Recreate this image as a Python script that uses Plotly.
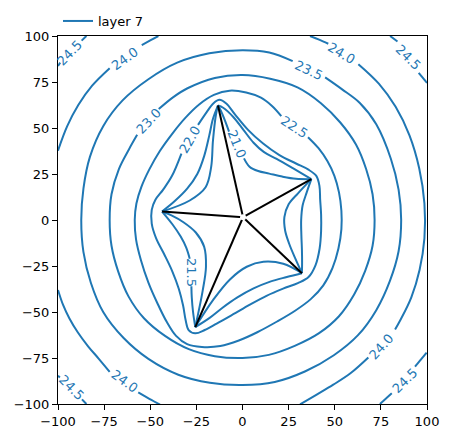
import plotly.graph_objects as go

BLUE = "#1f77b4"

# ---- star (line sinks) -------------------------------------------------
HUB_X = [0.3]
HUB_Y = [1.5]
TIP_X = [-13.3, 37.3, 32.2, -25.6, -43.6]
TIP_Y = [62.2, 22.2, -28.9, -58.2, 4.6]

# ---- contour pieces (data units) ----------------------------------------
LEVEL_24_5 = [
    [(-100, 83.7), (-98.8, 85.5)],
    [(-87.2, 97.5), (-84.6, 100)],
    [(80, 100), (84, 97)],
    [(95.5, 80), (100, 74.5)],
    [(-100, -84.6), (-99, -85.6)],
    [(-87, -97.5), (-84.6, -100)],
    [(74.5, -100), (80.9, -94.2)],
    [(93.5, -79.7), (99.8, -72.1)],
]

LEVEL_24_0 = [
    [(-100, 37.7), (-95, 51), (-89, 62.5), (-81.5, 73), (-72, 82.5)],
    [(-54.6, 95.1), (-50, 97.6), (-45.6, 100)],
    [(36.6, 100), (41.5, 98), (46.5, 95.8)],
    [(62.8, 84.7), (74, 74), (83, 61.5), (90.5, 46), (95.8, 28),
     (98.6, 9), (98.6, -10), (96, -27), (91.5, -42), (85.5, -54.5),
     (82.7, -59.5)],
    [(68.2, -74.7), (58.5, -83.3), (49.2, -89.5), (40, -95), (31.2, -100.2)],
    [(-100, -38), (-97.3, -46), (-93.8, -53.5), (-89.3, -61), (-83.8, -68.5),
     (-78, -75.3), (-72, -82.5)],
    [(-56.5, -93.7), (-50.5, -97.2), (-44.7, -100.3)],
]

LEVEL_23_5 = [
    [(44.8, 77.5), (54, 71), (63.6, 63.6), (72.5, 52), (80.4, 33.3),
     (84.6, 16.5), (86, 0), (84.6, -17), (79.9, -33.1), (72.5, -49),
     (62.6, -62.6), (49.5, -73.5), (34.1, -82.2), (17.5, -88),
     (0, -89.7), (-17.7, -88.5), (-34.8, -84.1), (-51, -75.5),
     (-64.3, -64.3), (-75.5, -50), (-82.2, -34.1), (-86.2, -17.5),
     (-87.4, 0), (-86.2, 17.2), (-82.7, 34.3), (-75.5, 51), (-65, 65),
     (-51, 76.5), (-35.4, 85.5), (-18, 90.6), (0, 92.3), (14.5, 91),
     (27.2, 86.3)],
]

LEVEL_23_0 = [
    [(-45.4, 60.3), (-37.5, 66.8), (-29.8, 71.6), (-15, 77.2), (0, 78.8),
     (15, 76.8), (29.8, 72.1), (42.5, 63.5), (53, 53), (61.5, 41),
     (67, 27.7), (70.5, 14), (71.6, 0), (70.5, -14), (66.5, -27.6),
     (60.5, -40.5), (52.3, -52.3), (41.5, -61.5), (28.3, -68.4),
     (14.3, -73.3), (0, -75), (-15, -74), (-29.1, -70.2), (-42, -63),
     (-53.4, -53.4), (-61.8, -41.5), (-67.4, -27.9), (-71, -14), (-72, 0),
     (-71, 14), (-67, 27.7), (-61.5, 38.5), (-57.1, 46.3)],
]

LEVEL_22_5 = [
    [(35.5, 45), (41.2, 39), (46, 32), (49.8, 24), (52.3, 15), (53.6, 5),
     (53.6, -5), (52, -15.5), (48.8, -26), (43.8, -35.5), (37, -43),
     (28.5, -49.3), (18.5, -55.3), (8, -61), (-2, -65.5), (-12, -68.5),
     (-22, -69), (-30, -67.5), (-36, -63), (-41, -55.5), (-46, -45.5),
     (-51, -34), (-55, -22), (-57.7, -10.5), (-58.4, 0), (-57.5, 9),
     (-54.8, 18), (-50.5, 27.5), (-44.8, 37.5), (-38, 47), (-31, 55.5),
     (-23.5, 62.8), (-15.5, 68), (-7, 70.3), (2, 69.3), (10, 66.5),
     (16, 62), (21, 56.5)],
]

LEVEL_22_0 = [
    [(-24.1, 51.7), (-19.5, 58.5), (-15.7, 63.5), (-12.5, 65.3),
     (-8.8, 63.3), (-4, 57.3), (3, 49), (11, 41.7), (20, 35.3), (29, 30.7),
     (35.5, 27.5), (40, 24), (41.7, 18.5), (42.1, 11), (42.6, 3),
     (42.6, -6), (41.8, -15.5), (39.6, -24.5), (35.8, -31), (30, -34.3),
     (22, -37.3), (13, -41.2), (4, -46), (-5, -51.2), (-14, -56.3),
     (-20.5, -59.8), (-25.6, -61.6), (-29.2, -59.8), (-30.8, -54.5),
     (-32.2, -46.5), (-34.5, -37.5), (-38, -28), (-42.5, -18.5),
     (-46.8, -10), (-49.2, -2), (-49.2, 5.5), (-47.2, 11), (-43, 16.5),
     (-38.2, 24), (-33.1, 36.1)],
]

LEVEL_21_5 = [
    [(-13.3, 62.2), (-10.5, 61), (-5, 56), (0.5, 49), (6, 42), (11.5, 37),
     (18.5, 33.2), (27.5, 28), (37.3, 22.2)],
    [(37.3, 22.2), (34.8, 15), (32.6, 8), (31.8, 0), (31.9, -8),
     (32.2, -16), (32.3, -23), (32.2, -28.9)],
    [(32.2, -28.9), (24, -31), (15, -33.5), (6, -37.2), (-3, -42.2),
     (-11, -47.8), (-18, -53.3), (-25.6, -58.2)],
    [(-25.6, -58.2), (-26.8, -50), (-27.5, -42), (-27.7, -36)],
    [(-28.6, -21), (-30.5, -15), (-33.5, -9), (-38, -2.3), (-43.6, 4.6)],
    [(-43.6, 4.6), (-37, 10), (-30, 17), (-24.5, 25), (-20.7, 35),
     (-18, 46), (-16, 55), (-13.3, 62.2)],
]

LEVEL_21_0 = [
    [(-13.3, 62.2), (-11.8, 59.5), (-9.5, 54), (-7.3, 48)],
    [(0.8, 33.5), (3.8, 29), (8.5, 26.6), (14.5, 25.2), (21.5, 23.6),
     (29, 22.4), (37.3, 22.2)],
    [(37.3, 22.2), (30.1, 14.5), (25, 8.5), (22.7, 1.5), (23.1, -5.7),
     (25.3, -12.9), (28.3, -20.2), (32.2, -28.9)],
    [(32.2, -28.9), (22.1, -23.8), (11.3, -22.7), (2.3, -25.4),
     (-6.8, -32.3), (-15.8, -43.3), (-25.6, -58.2)],
    [(-25.6, -58.2), (-21.6, -38.5), (-19.8, -25.4), (-20.8, -14.5),
     (-25.3, -6.8), (-32, -1.2), (-38.5, 2.5), (-43.6, 4.6)],
    [(-43.6, 4.6), (-28.6, 10.6), (-20, 17.8), (-17, 28.7), (-16, 43.2),
     (-14.4, 57.2), (-13.3, 62.2)],
]

LEVELS = [
    ("24.5", LEVEL_24_5), ("24.0", LEVEL_24_0), ("23.5", LEVEL_23_5),
    ("23.0", LEVEL_23_0), ("22.5", LEVEL_22_5), ("22.0", LEVEL_22_0),
    ("21.5", LEVEL_21_5), ("21.0", LEVEL_21_0),
]

# ---- inline contour labels ----------------------------------------------
LABEL_TEXT = ["24.5", "24.5", "24.5", "24.5", "24.0", "24.0", "24.0", "24.0",
              "23.5", "23.0", "22.5", "22.0", "21.5", "21.0"]
LABEL_X = [-93.5, 90, -92.8, 88, -63.7, 53.8, -63.7, 75.4,
           36.0, -51.2, 28.4, -28.6, -27.7, -3.0]
LABEL_Y = [91, 88.5, -91.1, -87, 88, 90.6, -87.9, -68.9,
           81.0, 53.8, 50.5, 43.9, -28.5, 41.0]
LABEL_ANGLE = [-46, 45, 45, -45, -36, 31, 36, -48,
               25, -47, 33, -60, 90, 68]

fig = go.Figure()

first = True
for lvl, pieces in LEVELS:
    for piece in pieces:
        fig.add_trace(go.Scatter(
            x=[p[0] for p in piece], y=[p[1] for p in piece],
            mode="lines", line=dict(color=BLUE, width=2, shape="spline",
                                    smoothing=1.0),
            name="layer 7", legendgroup="layer7", showlegend=first,
            hoverinfo="skip"))
        first = False

for tx, ty in zip(TIP_X, TIP_Y):
    fig.add_trace(go.Scatter(
        x=[HUB_X[0], tx], y=[HUB_Y[0], ty], mode="lines",
        line=dict(color="black", width=2), showlegend=False,
        hoverinfo="skip"))

fig.add_trace(go.Scatter(
    x=HUB_X, y=HUB_Y, mode="markers",
    marker=dict(color="white", size=6, line=dict(width=0)),
    showlegend=False, hoverinfo="skip"))

for t, x, y, a in zip(LABEL_TEXT, LABEL_X, LABEL_Y, LABEL_ANGLE):
    fig.add_annotation(x=x, y=y, text=t, textangle=a, showarrow=False,
                       font=dict(color=BLUE, size=13, family="DejaVu Sans"))

axis_common = dict(range=[-100, 100], tickmode="array",
                   tickvals=[-100, -75, -50, -25, 0, 25, 50, 75, 100],
                   ticks="outside", ticklen=5, tickwidth=1, tickcolor="black",
                   showline=True, linecolor="black", linewidth=1, mirror=True,
                   showgrid=False, zeroline=False, automargin=False,
                   tickfont=dict(size=13, color="black", family="DejaVu Sans"))

# the page body adds an 8px offset, so the figure is laid out 8px smaller
fig.update_layout(
    width=442, height=430,
    margin=dict(l=50, r=23, t=27, b=34),
    paper_bgcolor="white", plot_bgcolor="white",
    font=dict(family="DejaVu Sans", size=13, color="black"),
    xaxis=dict(**axis_common),
    yaxis=dict(**axis_common),
    legend=dict(xref="container", yref="container",
                x=50 / 442, y=1 - 13 / 430, xanchor="left", yanchor="middle",
                orientation="h", bgcolor="rgba(0,0,0,0)",
                font=dict(size=13, color="black", family="DejaVu Sans")),
    showlegend=True,
)

fig.write_html("out.html")
